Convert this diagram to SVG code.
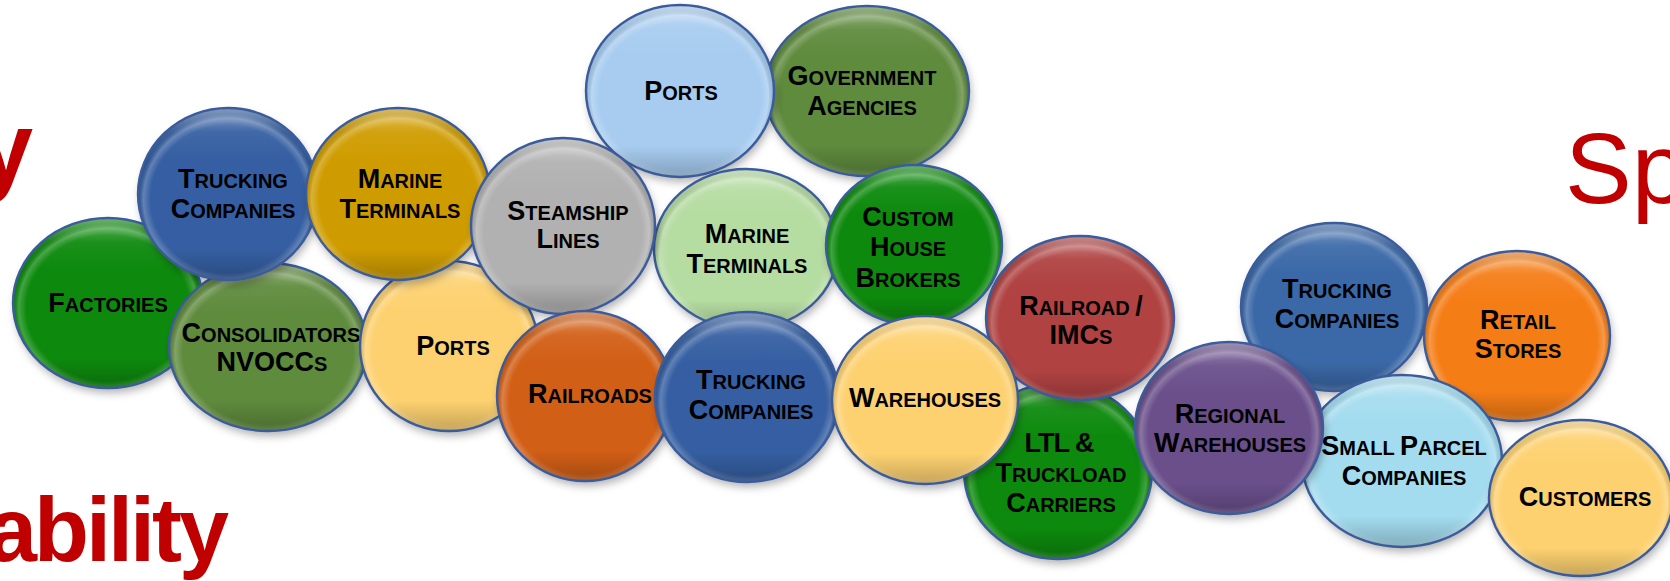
<svg xmlns="http://www.w3.org/2000/svg" width="1670" height="581" viewBox="0 0 1670 581">
<defs>
<filter id="sh" x="-20%" y="-20%" width="140%" height="150%">
<feDropShadow dx="2" dy="5" stdDeviation="4" flood-color="#000" flood-opacity="0.3"/>
</filter>
<linearGradient id="shade" x1="0" y1="0" x2="0" y2="1">
<stop offset="0" stop-color="#fff" stop-opacity="0.4"/>
<stop offset="0.14" stop-color="#fff" stop-opacity="0.06"/>
<stop offset="0.3" stop-color="#fff" stop-opacity="0"/>
<stop offset="0.82" stop-color="#000" stop-opacity="0"/>
<stop offset="1" stop-color="#000" stop-opacity="0.22"/>
</linearGradient>
<radialGradient id="rim" cx="0.5" cy="0.53" r="0.5">
<stop offset="0" stop-color="#fff" stop-opacity="0"/>
<stop offset="0.86" stop-color="#fff" stop-opacity="0"/>
<stop offset="0.94" stop-color="#fff" stop-opacity="0.22"/>
<stop offset="1" stop-color="#000" stop-opacity="0.1"/>
</radialGradient>
</defs>
<style>
.b{filter:url(#sh)}
.g{fill:url(#shade);stroke:#3a5c9c;stroke-width:2.4}
.r{fill:url(#rim)}
.t{font-family:"Liberation Sans",Arial,sans-serif;font-weight:bold;font-size:20px;fill:#000;text-anchor:middle}
.c{font-size:27px}
.red{font-family:"Liberation Sans",Arial,sans-serif;fill:#c00000}
.big{font-size:100px}
.mid{font-size:90px;font-weight:bold;letter-spacing:-3px}
.green{fill:#0a8a0a}
.blue{fill:#355fa2}
.blue2{fill:#3b69a8}
.gold{fill:#cf9c00}
.olive{fill:#5e8b3d}
.yellow{fill:#fdd170}
.gray{fill:#b1b1b1}
.lblue{fill:#a7ccf0}
.lgreen{fill:#b5dca1}
.orange{fill:#d25f16}
.brick{fill:#b04343}
.purple{fill:#6b4f8b}
.orange2{fill:#f57d13}
.cyan{fill:#a3dcef}
</style>

<text class="red big" x="33" y="182" text-anchor="end" font-weight="bold">y</text>
<text class="red mid" x="-13" y="561">ability</text>
<text class="red big" x="1565" y="203">Sp</text>

<g id="factories">
<ellipse class="b green" cx="108" cy="303" rx="95" ry="85"/>
<ellipse class="r" cx="108" cy="303" rx="95" ry="85"/>
<ellipse class="g" cx="108" cy="303" rx="95" ry="85"/>
<text class="t" x="108" y="312"><tspan class="c">F</tspan>ACTORIES</text>
</g>

<g id="consolidators">
<ellipse class="b olive" cx="268" cy="347" rx="99" ry="84"/>
<ellipse class="r" cx="268" cy="347" rx="99" ry="84"/>
<ellipse class="g" cx="268" cy="347" rx="99" ry="84"/>
<text class="t" x="271" y="342"><tspan class="c">C</tspan>ONSOLIDATORS</text>
<text class="t" x="272" y="371"><tspan class="c">NVOCC</tspan>S</text>
</g>

<g id="ports-1">
<ellipse class="b yellow" cx="449" cy="346" rx="89" ry="85"/>
<ellipse class="r" cx="449" cy="346" rx="89" ry="85"/>
<ellipse class="g" cx="449" cy="346" rx="89" ry="85"/>
<text class="t" x="453" y="355"><tspan class="c">P</tspan>ORTS</text>
</g>

<g id="trucking-1">
<ellipse class="b blue" cx="228" cy="194" rx="90" ry="86"/>
<ellipse class="r" cx="228" cy="194" rx="90" ry="86"/>
<ellipse class="g" cx="228" cy="194" rx="90" ry="86"/>
<text class="t" x="233" y="188"><tspan class="c">T</tspan>RUCKING</text>
<text class="t" x="233" y="218"><tspan class="c">C</tspan>OMPANIES</text>
</g>

<g id="marine-terminals-1">
<ellipse class="b gold" cx="398" cy="194" rx="92" ry="86"/>
<ellipse class="r" cx="398" cy="194" rx="92" ry="86"/>
<ellipse class="g" cx="398" cy="194" rx="92" ry="86"/>
<text class="t" x="400" y="188"><tspan class="c">M</tspan>ARINE</text>
<text class="t" x="400" y="218"><tspan class="c">T</tspan>ERMINALS</text>
</g>

<g id="government-agencies">
<ellipse class="b olive" cx="867" cy="91" rx="102" ry="85"/>
<ellipse class="r" cx="867" cy="91" rx="102" ry="85"/>
<ellipse class="g" cx="867" cy="91" rx="102" ry="85"/>
<text class="t" x="862" y="85"><tspan class="c">G</tspan>OVERNMENT</text>
<text class="t" x="862" y="115"><tspan class="c">A</tspan>GENCIES</text>
</g>

<g id="ports-2">
<ellipse class="b lblue" cx="680" cy="91" rx="94" ry="86"/>
<ellipse class="r" cx="680" cy="91" rx="94" ry="86"/>
<ellipse class="g" cx="680" cy="91" rx="94" ry="86"/>
<text class="t" x="681" y="100"><tspan class="c">P</tspan>ORTS</text>
</g>

<g id="marine-terminals-2">
<ellipse class="b lgreen" cx="746" cy="249" rx="92" ry="80"/>
<ellipse class="r" cx="746" cy="249" rx="92" ry="80"/>
<ellipse class="g" cx="746" cy="249" rx="92" ry="80"/>
<text class="t" x="747" y="243"><tspan class="c">M</tspan>ARINE</text>
<text class="t" x="747" y="273"><tspan class="c">T</tspan>ERMINALS</text>
</g>

<g id="custom-house-brokers">
<ellipse class="b green" cx="914" cy="245" rx="88" ry="80"/>
<ellipse class="r" cx="914" cy="245" rx="88" ry="80"/>
<ellipse class="g" cx="914" cy="245" rx="88" ry="80"/>
<text class="t" x="908" y="226"><tspan class="c">C</tspan>USTOM</text>
<text class="t" x="908" y="256"><tspan class="c">H</tspan>OUSE</text>
<text class="t" x="908" y="287"><tspan class="c">B</tspan>ROKERS</text>
</g>

<g id="steamship-lines">
<ellipse class="b gray" cx="563" cy="226" rx="92" ry="88"/>
<ellipse class="r" cx="563" cy="226" rx="92" ry="88"/>
<ellipse class="g" cx="563" cy="226" rx="92" ry="88"/>
<text class="t" x="568" y="220"><tspan class="c">S</tspan>TEAMSHIP</text>
<text class="t" x="568" y="248"><tspan class="c">L</tspan>INES</text>
</g>

<g id="railroads">
<ellipse class="b orange" cx="585" cy="396" rx="88" ry="85"/>
<ellipse class="r" cx="585" cy="396" rx="88" ry="85"/>
<ellipse class="g" cx="585" cy="396" rx="88" ry="85"/>
<text class="t" x="590" y="403"><tspan class="c">R</tspan>AILROADS</text>
</g>

<g id="trucking-2">
<ellipse class="b blue" cx="747" cy="397" rx="92" ry="85"/>
<ellipse class="r" cx="747" cy="397" rx="92" ry="85"/>
<ellipse class="g" cx="747" cy="397" rx="92" ry="85"/>
<text class="t" x="751" y="389"><tspan class="c">T</tspan>RUCKING</text>
<text class="t" x="751" y="419"><tspan class="c">C</tspan>OMPANIES</text>
</g>

<g id="ltl-truckload-carriers">
<ellipse class="b green" cx="1058" cy="471" rx="94" ry="88"/>
<ellipse class="r" cx="1058" cy="471" rx="94" ry="88"/>
<ellipse class="g" cx="1058" cy="471" rx="94" ry="88"/>
<text class="t c" x="1059" y="452" letter-spacing="-1">LTL &amp;</text>
<text class="t" x="1061" y="482"><tspan class="c">T</tspan>RUCKLOAD</text>
<text class="t" x="1061" y="512"><tspan class="c">C</tspan>ARRIERS</text>
</g>

<g id="railroad-imcs">
<ellipse class="b brick" cx="1080" cy="318" rx="94" ry="82"/>
<ellipse class="r" cx="1080" cy="318" rx="94" ry="82"/>
<ellipse class="g" cx="1080" cy="318" rx="94" ry="82"/>
<text class="t" x="1081" y="315"><tspan class="c">R</tspan>AILROAD <tspan class="c">/</tspan></text>
<text class="t" x="1081" y="344"><tspan class="c">IMC</tspan>S</text>
</g>

<g id="warehouses">
<ellipse class="b yellow" cx="925" cy="400" rx="93" ry="84"/>
<ellipse class="r" cx="925" cy="400" rx="93" ry="84"/>
<ellipse class="g" cx="925" cy="400" rx="93" ry="84"/>
<text class="t" x="925" y="407"><tspan class="c">W</tspan>AREHOUSES</text>
</g>

<g id="trucking-3">
<ellipse class="b blue2" cx="1334" cy="307" rx="93" ry="84"/>
<ellipse class="r" cx="1334" cy="307" rx="93" ry="84"/>
<ellipse class="g" cx="1334" cy="307" rx="93" ry="84"/>
<text class="t" x="1337" y="298"><tspan class="c">T</tspan>RUCKING</text>
<text class="t" x="1337" y="328"><tspan class="c">C</tspan>OMPANIES</text>
</g>

<g id="retail-stores">
<ellipse class="b orange2" cx="1517" cy="336" rx="93" ry="85"/>
<ellipse class="r" cx="1517" cy="336" rx="93" ry="85"/>
<ellipse class="g" cx="1517" cy="336" rx="93" ry="85"/>
<text class="t" x="1518" y="329"><tspan class="c">R</tspan>ETAIL</text>
<text class="t" x="1518" y="358"><tspan class="c">S</tspan>TORES</text>
</g>

<g id="small-parcel-companies">
<ellipse class="b cyan" cx="1402" cy="461" rx="100" ry="86"/>
<ellipse class="r" cx="1402" cy="461" rx="100" ry="86"/>
<ellipse class="g" cx="1402" cy="461" rx="100" ry="86"/>
<text class="t" x="1404" y="455"><tspan class="c">S</tspan>MALL <tspan class="c">P</tspan>ARCEL</text>
<text class="t" x="1404" y="485"><tspan class="c">C</tspan>OMPANIES</text>
</g>

<g id="regional-warehouses">
<ellipse class="b purple" cx="1229" cy="428" rx="94" ry="86"/>
<ellipse class="r" cx="1229" cy="428" rx="94" ry="86"/>
<ellipse class="g" cx="1229" cy="428" rx="94" ry="86"/>
<text class="t" x="1230" y="423"><tspan class="c">R</tspan>EGIONAL</text>
<text class="t" x="1230" y="452"><tspan class="c">W</tspan>AREHOUSES</text>
</g>

<g id="customers">
<ellipse class="b yellow" cx="1581" cy="498" rx="92" ry="78"/>
<ellipse class="r" cx="1581" cy="498" rx="92" ry="78"/>
<ellipse class="g" cx="1581" cy="498" rx="92" ry="78"/>
<text class="t" x="1585" y="506"><tspan class="c">C</tspan>USTOMERS</text>
</g>
</svg>
